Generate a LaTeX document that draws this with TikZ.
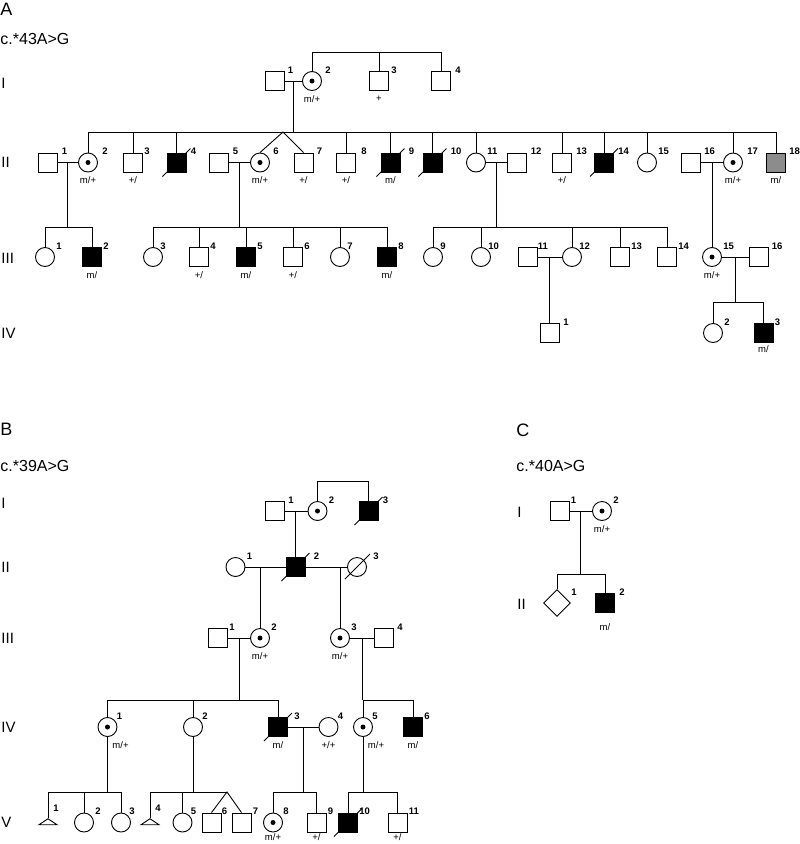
\documentclass[tikz,border=0pt]{standalone}
\usepackage{fontspec}
\setmainfont{Liberation Sans}
\usetikzlibrary{shapes.geometric}
\tikzset{every picture/.style={line width=0.9pt}}
\tikzset{
  male/.style={draw, rectangle, minimum size=19, inner sep=0},
  female/.style={draw, circle, minimum size=19, inner sep=0},
  sexunk/.style={draw, diamond, minimum size=27, inner sep=0},
  miscar/.style={draw, isosceles triangle, isosceles triangle stretches, shape border rotate=90, minimum width=18, minimum height=6, inner sep=0},
  aff/.style={fill=black},
  partaff/.style={fill=black!45},
  carrier/.style={path picture={\fill (path picture bounding box.center) circle (2.5);}},
  num/.style={font=\fontsize{9.5}{10}\selectfont\bfseries, anchor=west, inner sep=0, xshift=11, yshift=1},
  geno/.style={font=\fontsize{9.5}{10}\selectfont, anchor=center, inner sep=0, yshift=-8},
  panel/.style={font=\fontsize{18}{18}\selectfont, anchor=west, inner sep=0},
  mut/.style={font=\fontsize{16}{16}\selectfont, anchor=west, inner sep=0},
  gen/.style={font=\fontsize{15}{15}\selectfont, anchor=west, inner sep=0}
}

\begin{document}
\begin{tikzpicture}[x=1pt,y=1pt,yscale=-1,xscale=1]
    \useasboundingbox (0,0) rectangle (800,844);
    % panel A
    \node[panel] (ttlA) at (0,9) {A};
    \node[mut] (mutA) at (0,39) {c.*43A>G};
    \node[gen] (genAI) at (1,83) {I};
    \node[gen] (genAII) at (1,162) {II};
    \node[gen] (genAIII) at (1,258) {III};
    \node[gen] (genAIV) at (1,333) {IV};
    % generation I
    \node[male, label={[num,xshift=2]above:1}] (aI1) at (274.5,81) {};
    \node[female, carrier, label={[num,xshift=2]above:2}, label={[geno]below:m/+}] (aI2) at (312,81) {};
    \node[male, label={[num,xshift=1]above:3}, label={[geno]below:+}] (aI3) at (379,81) {};
    \node[male, label={[num,xshift=3]above:4}] (aI4) at (441,81) {};
    % generation II
    \node[male, label={[num,xshift=3]above:1}] (aII1) at (47.5,162.5) {};
    \node[female, carrier, label={[num,xshift=3]above:2}, label={[geno]below:m/+}] (aII2) at (88,162.5) {};
    \node[male, label={[num]above:3}, label={[geno]below:+/}] (aII3) at (133,162.5) {};
    \node[male, aff, label={[num,xshift=3]above:4}] (aII4) at (176.5,162.5) {};
    \node[male, label={[num,xshift=3]above:5}] (aII5) at (218.5,162.5) {};
    \node[female, carrier, label={[num,xshift=2]above:6}, label={[geno]below:m/+}] (aII6) at (260,162.5) {};
    \node[male, label={[num,xshift=2]above:7}, label={[geno]below:+/}] (aII7) at (303.5,162.5) {};
    \node[male, label={[num,xshift=4]above:8}, label={[geno]below:+/}] (aII8) at (346,162.5) {};
    \node[male, aff, label={[num,xshift=7]above:9}, label={[geno]below:m/}] (aII9) at (390.5,162.5) {};
    \node[male, aff, label={[num,xshift=7]above:10}] (aII10) at (432.5,162.5) {};
    \node[female, label={[num]above:11}] (aII11) at (476,162.5) {};
    \node[male, label={[num,xshift=3]above:12}] (aII12) at (516.5,162.5) {};
    \node[male, label={[num,xshift=3]above:13}, label={[geno]below:+/}] (aII13) at (562,162.5) {};
    \node[male, aff, label={[num,xshift=3]above:14}] (aII14) at (604,162.5) {};
    \node[female, label={[num]above:15}] (aII15) at (647,162.5) {};
    \node[male, label={[num,xshift=2]above:16}] (aII16) at (691,162.5) {};
    \node[female, carrier, label={[num,xshift=3]above:17}, label={[geno]below:m/+}] (aII17) at (733,162.5) {};
    \node[male, partaff, label={[num,xshift=2]above:18}, label={[geno]below:m/}] (aII18) at (776,162.5) {};
    % generation III
    \node[female, label={[num]above:1}] (aIII1) at (45,257) {};
    \node[male, aff, label={[num]above:2}, label={[geno]below:m/}] (aIII2) at (92,257) {};
    \node[female, label={[num,xshift=-4]above:3}] (aIII3) at (153,257) {};
    \node[male, label={[num]above:4}, label={[geno]below:+/}] (aIII4) at (199,257) {};
    \node[male, aff, label={[num]above:5}, label={[geno]below:m/}] (aIII5) at (246,257) {};
    \node[male, label={[num]above:6}, label={[geno]below:+/}] (aIII6) at (293,257) {};
    \node[female, label={[num,xshift=-4]above:7}] (aIII7) at (340,257) {};
    \node[male, aff, label={[num]above:8}, label={[geno]below:m/}] (aIII8) at (387,257) {};
    \node[female, label={[num,xshift=-4]above:9}] (aIII9) at (433,257) {};
    \node[female, label={[num,xshift=-4]above:10}] (aIII10) at (481,257) {};
    \node[male, label={[num,xshift=-1]above:11}] (aIII11) at (527.5,257) {};
    \node[female, label={[num,xshift=-4]above:12}] (aIII12) at (572,257) {};
    \node[male, label={[num]above:13}] (aIII13) at (620,257) {};
    \node[male, label={[num]above:14}] (aIII14) at (667,257) {};
    \node[female, carrier, label={[num]above:15}, label={[geno]below:m/+}] (aIII15) at (712,257) {};
    \node[male, label={[num,xshift=2]above:16}] (aIII16) at (758.5,257) {};
    % generation IV
    \node[male, label={[num,xshift=2]above:1}] (aIV1) at (550,333) {};
    \node[female, label={[num]above:2}] (aIV2) at (713,333) {};
    \node[male, aff, label={[num]above:3}, label={[geno,yshift=2]below:m/}] (aIV3) at (763.5,333) {};
    % lines A
    \coordinate (sA0) at (0,52);
    \coordinate (sA1) at (0,132);
    \coordinate (sA2) at (0,227);
    \coordinate (sA3) at (0,302);
    \coordinate (twA) at (283,132);
    \draw (aI2.north) |- (aI4.north |- sA0) -- (aI4.north);
    \draw (aI3.north) -- (aI3.north |- sA0);
    \draw (aI1) -- (aI2) coordinate[midway] (mA1);
    \draw (mA1) -- (mA1 |- sA1);
    \draw (aII2.north |- sA1) -- (aII18.north |- sA1);
    \foreach \c in {aII2,aII3,aII4,aII8,aII9,aII10,aII11,aII13,aII14,aII15,aII17,aII18}
        \draw (\c.north) -- (\c.north |- sA1);
    \draw (aII6.north) -- (twA) -- (aII7.north);
    \draw (aII1) -- (aII2) coordinate[midway] (mA2);
    \draw (aII5) -- (aII6) coordinate[midway] (mA3);
    \draw (aII11) -- (aII12) coordinate[midway] (mA4);
    \draw (aII16) -- (aII17) coordinate[midway] (mA5);
    \draw (mA2) -- (mA2 |- sA2);
    \draw (aIII1.north |- sA2) -- (aIII2.north |- sA2);
    \draw (mA3) -- (mA3 |- sA2);
    \draw (aIII3.north |- sA2) -- (aIII8.north |- sA2);
    \draw (mA4) -- (mA4 |- sA2);
    \draw (aIII9.north |- sA2) -- (aIII14.north |- sA2);
    \foreach \c in {aIII1,aIII2,aIII3,aIII4,aIII5,aIII6,aIII7,aIII8,aIII9,aIII10,aIII12,aIII13,aIII14}
        \draw (\c.north) -- (\c.north |- sA2);
    \draw (mA5) -- (mA5 |- aIII15.north);
    \draw (aIII11) -- (aIII12) coordinate[midway] (mA6);
    \draw (mA6) -- (mA6 |- aIV1.north);
    \draw (aIII15) -- (aIII16) coordinate[midway] (mA7);
    \draw (mA7) -- (mA7 |- sA3);
    \draw (aIV2.north |- sA3) -- (aIV3.north |- sA3);
    \draw (aIV2.north) -- (aIV2.north |- sA3);
    \draw (aIV3.north) -- (aIV3.north |- sA3);

    % panel B
    \node[panel] (ttlB) at (0,429.5) {B};
    \node[mut] (mutB) at (0,466) {c.*39A>G};
    \node[gen] (genBI) at (1,503) {I};
    \node[gen] (genBII) at (1,567) {II};
    \node[gen] (genBIII) at (1,638) {III};
    \node[gen] (genBIV) at (1,727) {IV};
    \node[gen] (genBV) at (1,822) {V};
    \node[male, label={[num,xshift=2]above:1}] (bI1) at (275,511) {};
    \node[female, carrier, label={[num]above:2}] (bI2) at (317.5,511) {};
    \node[male, aff, label={[num,xshift=3]above:3}] (bI3) at (368.5,511) {};
    \node[female, label={[num]above:1}] (bII1) at (235.5,567) {};
    \node[male, aff, label={[num,xshift=7]above:2}] (bII2) at (295.5,567) {};
    \node[female, label={[num,xshift=5]above:3}] (bII3) at (357,567) {};
    \node[male, label={[num]above:1}] (bIII1) at (218,638) {};
    \node[female, carrier, label={[num]above:2}, label={[geno]below:m/+}] (bIII2) at (260,638) {};
    \node[female, carrier, label={[num]above:3}, label={[geno]below:m/+}] (bIII3) at (340,638) {};
    \node[male, label={[num,xshift=2]above:4}] (bIII4) at (384,638) {};
    \node[female, carrier, label={[num,xshift=-2]above:1}, label={[geno,xshift=13]below:m/+}] (bIV1) at (107.5,727) {};
    \node[female, label={[num,xshift=-2]above:2}] (bIV2) at (193,727) {};
    \node[male, aff, label={[num,xshift=5]above:3}, label={[geno]below:m/}] (bIV3) at (278,727) {};
    \node[female, label={[num,xshift=-2]above:4}, label={[geno]below:+/+}] (bIV4) at (328.5,727) {};
    \node[female, carrier, label={[num,xshift=-2]above:5}, label={[geno,xshift=13]below:m/+}] (bIV5) at (363,727) {};
    \node[male, aff, label={[num]above:6}, label={[geno]below:m/}] (bIV6) at (413,727) {};
    \node[miscar, label={[num,xshift=-6,yshift=8]above:1}] (bV1) at (48,822) {};
    \node[female, label={[num]above:2}] (bV2) at (84,822.5) {};
    \node[female, label={[num,xshift=-3]above:3}] (bV3) at (121,822.5) {};
    \node[miscar, label={[num,xshift=-6,yshift=8]above:4}] (bV4) at (150,822) {};
    \node[female, label={[num,xshift=-3]above:5}] (bV5) at (182.5,822.5) {};
    \node[male, label={[num,xshift=-1]above:6}] (bV6) at (211.5,822.5) {};
    \node[male, label={[num]above:7}] (bV7) at (241.5,822.5) {};
    \node[female, carrier, label={[num,xshift=-1]above:8}, label={[geno,yshift=3]below:m/+}] (bV8) at (273,822.5) {};
    \node[male, label={[num]above:9}, label={[geno,yshift=3]below:+/}] (bV9) at (316.5,822.5) {};
    \node[male, aff, label={[num]above:10}] (bV10) at (348,822.5) {};
    \node[male, label={[num]above:11}, label={[geno,yshift=3]below:+/}] (bV11) at (397.5,822.5) {};
    % lines B
    \coordinate (sB0) at (0,481);
    \coordinate (sB1) at (0,700);
    \coordinate (sB2) at (0,792);
    \coordinate (twB) at (227,792);
    \draw (bI2.north) |- (bI3.north |- sB0) -- (bI3.north);
    \draw (bI1) -- (bI2);
    \draw (bII2.north) -- (bII2.north |- bI1.center);
    \draw (bII1) -- (bII2);
    \draw (bII2) -- (bII3);
    \draw (bIII2.north) -- (bIII2.north |- bII1.center);
    \draw (bIII3.north) -- (bIII3.north |- bII3.center);
    \draw (bIII1) -- (bIII2) coordinate[midway] (mB1);
    \draw (bIII3) -- (bIII4) coordinate[midway] (mB2);
    \draw (mB1) -- (mB1 |- sB1);
    \draw (bIV1.north |- sB1) -- (bIV3.north |- sB1);
    \draw (mB2) -- (mB2 |- sB1);
    \draw (bIV5.north |- sB1) -- (bIV6.north |- sB1);
    \foreach \c in {bIV1,bIV2,bIV3,bIV5,bIV6}
        \draw (\c.north) -- (\c.north |- sB1);
    \draw (bIV3) -- (bIV4) coordinate[midway] (mB3);
    \draw (bIV1.south) -- (bIV1.south |- sB2);
    \draw (bV1.apex |- sB2) -- (bV3.north |- sB2);
    \draw (bIV2.south) -- (bIV2.south |- sB2);
    \draw (bV4.apex |- sB2) -- (twB);
    \draw (mB3) -- (mB3 |- sB2);
    \draw (bV8.north |- sB2) -- (bV9.north |- sB2);
    \draw (bIV5.south) -- (bIV5.south |- sB2);
    \draw (bV10.north |- sB2) -- (bV11.north |- sB2);
    \draw (bV1.apex) -- (bV1.apex |- sB2);
    \draw (bV4.apex) -- (bV4.apex |- sB2);
    \foreach \c in {bV2,bV3,bV5,bV8,bV9,bV10,bV11}
        \draw (\c.north) -- (\c.north |- sB2);
    \draw (bV6.north) -- (twB) -- (bV7.north);

    % panel C
    \node[panel] (ttlC) at (516,430) {C};
    \node[mut] (mutC) at (516,466) {c.*40A>G};
    \node[gen] (genCI) at (517,512) {I};
    \node[gen] (genCII) at (517,604) {II};
    \node[male, label={[num]above:1}] (cI1) at (559.5,511) {};
    \node[female, carrier, label={[num]above:2}, label={[geno]below:m/+}] (cI2) at (602,511) {};
    \node[sexunk, label={[num,xshift=3,yshift=-4]above:1}] (cII1) at (557,603) {};
    \node[male, aff, label={[num,xshift=3]above:2}, label={[geno,yshift=-6]below:m/}] (cII2) at (605,603) {};
    \coordinate (sC1) at (0,574);
    \draw (cI1) -- (cI2) coordinate[midway] (mC1);
    \draw (mC1) -- (mC1 |- sC1);
    \draw (cII1.north |- sC1) -- (cII2.north |- sC1);
    \draw (cII1.north) -- (cII1.north |- sC1);
    \draw (cII2.north) -- (cII2.north |- sC1);

    % deceased
    \foreach \p in {aII4,aII9,aII10,aII14,bI3,bII2,bIV3,bV10}
        \draw ([shift={(-14,14)}]\p.center) -- ([shift={(14,-14)}]\p.center);
    \draw ([shift={(-12,12)}]bII3.center) -- ([shift={(13,-13)}]bII3.center);
\end{tikzpicture}
\end{document}
